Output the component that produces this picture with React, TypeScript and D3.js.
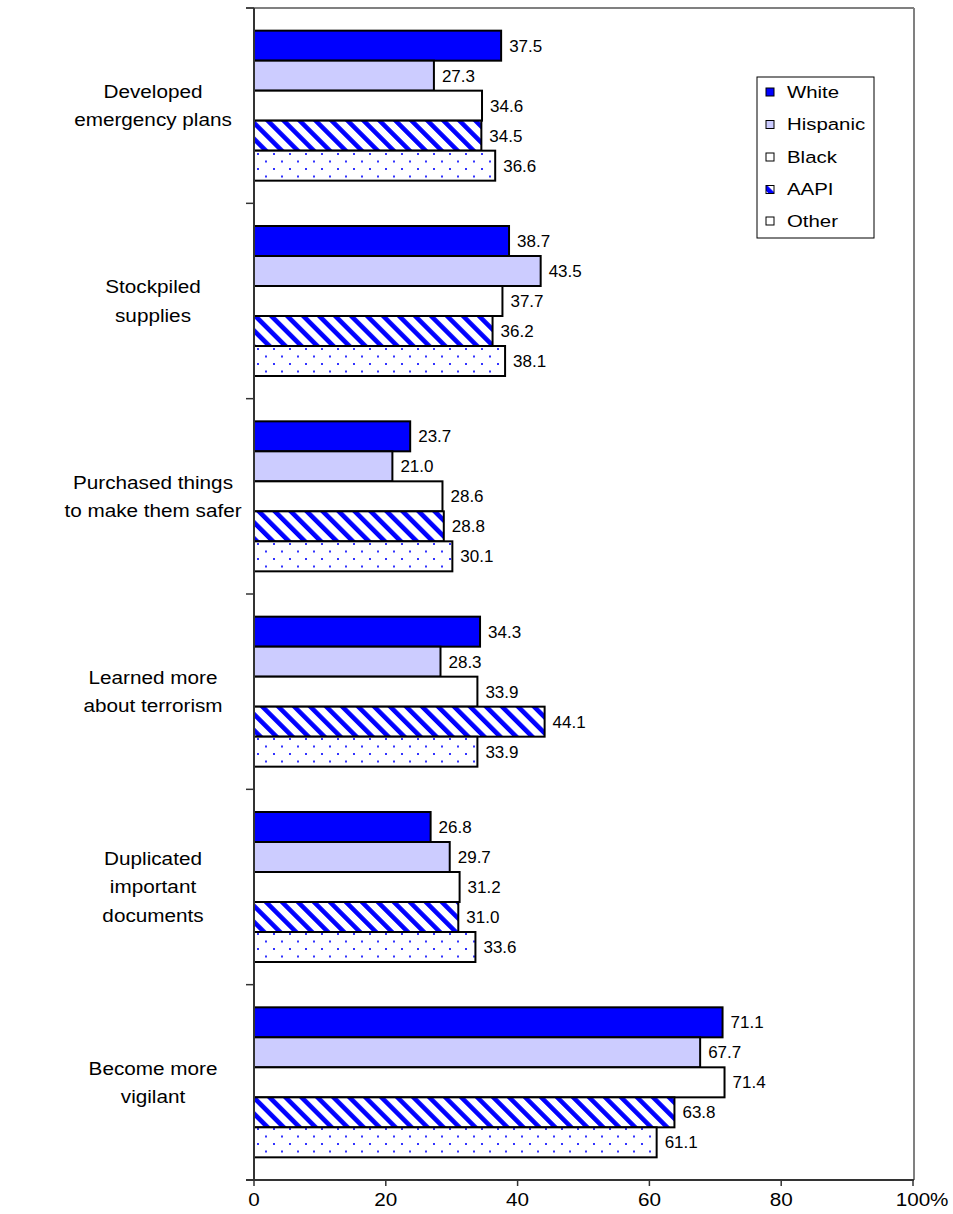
import React from "react";
import * as d3 from "d3";

const categories = [
  "Developed emergency plans",
  "Stockpiled supplies",
  "Purchased things to make them safer",
  "Learned more about terrorism",
  "Duplicated important documents",
  "Become more vigilant",
];
const categoryLines = [
  ["Developed", "emergency plans"],
  ["Stockpiled", "supplies"],
  ["Purchased things", "to make them safer"],
  ["Learned more", "about terrorism"],
  ["Duplicated", "important", "documents"],
  ["Become more", "vigilant"],
];
const seriesNames = ["White", "Hispanic", "Black", "AAPI", "Other"];
const white = [37.5, 38.7, 23.7, 34.3, 26.8, 71.1];
const hispanic = [27.3, 43.5, 21.0, 28.3, 29.7, 67.7];
const black = [34.6, 37.7, 28.6, 33.9, 31.2, 71.4];
const aapi = [34.5, 36.2, 28.8, 44.1, 31.0, 63.8];
const other = [36.6, 38.1, 30.1, 33.9, 33.6, 61.1];
const seriesValues = [white, hispanic, black, aapi, other];
const xTicks = [0, 20, 40, 60, 80, 100];

const fills = ["#0000ff", "#ccccff", "#ffffff", "url(#stripes)", "url(#dots)"];

export default function App() {
  const W = 953, H = 1214;
  const left = 254, right = 913, top = 8, bottom = 1180;
  const x = d3.scaleLinear().domain([0, 100]).range([left, right]);
  const y = d3.scaleBand<string>().domain(categories).range([top, bottom]).padding(0);
  const bw = y.bandwidth();
  const inner = d3
    .scaleBand<string>()
    .domain(seriesNames)
    .range([0, bw])
    .paddingInner(0)
    .paddingOuter((bw - 150) / 2 / 30);
  const font = "Arial, 'Liberation Sans', sans-serif";
  const boundaries = d3.range(categories.length + 1).map((i) => top + i * bw);

  const legendX = 757, legendY = 77;
  const legendRows = [92, 124.5, 157, 189.5, 221];
  const labelCx = 153;
  const sx = 1.12;

  return (
    <svg width={W} height={H} style={{ position: "absolute", left: 0, top: 0, display: "block" }} fontFamily={font}>
      <defs>
        <pattern id="stripes" patternUnits="userSpaceOnUse" width={11.3} height={11.3} patternTransform="rotate(-45)">
          <rect width={11.3} height={11.3} fill="#ffffff" />
          <rect x={0} y={0} width={4.6} height={11.3} fill="#0000ff" />
        </pattern>
        <pattern id="dots" patternUnits="userSpaceOnUse" width={16} height={15} x={left} y={0}>
          <rect width={16} height={15} fill="#ffffff" />
          <rect x={3} y={3} width={2} height={2} fill="#3333ff" />
          <rect x={11} y={10.5} width={2} height={2} fill="#3333ff" />
        </pattern>
      </defs>
      <rect width={W} height={H} fill="#ffffff" />
      {/* plot border */}
      <line x1={left - 8} x2={right + 1} y1={top} y2={top} stroke="#808080" strokeWidth={2} />
      <line x1={right + 1} x2={right + 1} y1={top} y2={bottom} stroke="#808080" strokeWidth={2} />

      {/* bars */}
      {categories.map((c, ci) => (
        <g key={c}>
          {seriesNames.map((s, si) => {
            const v = seriesValues[si][ci];
            const by = (y(c) as number) + (inner(s) as number);
            return (
              <g key={s}>
                <rect
                  x={x(0)}
                  y={by}
                  width={x(v) - x(0)}
                  height={inner.bandwidth()}
                  fill={fills[si]}
                  stroke="#000"
                  strokeWidth={2}
                />
                <text x={x(v) + 8} y={by + inner.bandwidth() / 2} dy="0.35em" fontSize={17} fill="#000">
                  {v.toFixed(1)}
                </text>
              </g>
            );
          })}
          {categoryLines[ci].map((ln, li) => {
            const n = categoryLines[ci].length;
            const cy = (y(c) as number) + bw / 2 + (li - (n - 1) / 2) * 28.5;
            return (
              <text
                key={li}
                transform={`translate(${labelCx},${cy}) scale(${sx},1)`}
                dy="0.35em"
                textAnchor="middle"
                fontSize={18.5}
                fill="#000"
              >
                {ln}
              </text>
            );
          })}
        </g>
      ))}

      {/* left axis */}
      <line x1={left} x2={left} y1={top} y2={bottom} stroke="#333" strokeWidth={2} />
      {boundaries.map((b, i) => (
        <line key={i} x1={left - 8} x2={left} y1={b} y2={b} stroke="#333" strokeWidth={1.5} />
      ))}
      {/* bottom axis */}
      <line x1={left - 8} x2={right + 1} y1={bottom} y2={bottom} stroke="#333" strokeWidth={2} />
      {xTicks.map((t) => (
        <g key={t}>
          <line x1={x(t)} x2={x(t)} y1={bottom} y2={bottom + 6} stroke="#333" strokeWidth={1.5} />
          <text
            transform={`translate(${x(t)},${bottom + 26}) scale(1.15,1)`}
            textAnchor="middle"
            fontSize={18}
            fill="#000"
          >
            {String(t)}
          </text>
          {t === 100 && (
            <text
              transform={`translate(${x(t) + 17},${bottom + 26}) scale(1.15,1)`}
              fontSize={18}
              fill="#000"
            >
              %
            </text>
          )}
        </g>
      ))}

      {/* legend */}
      <rect x={legendX} y={legendY} width={117} height={161} fill="#ffffff" stroke="#000" strokeWidth={1} />
      {seriesNames.map((s, si) => (
        <g key={s}>
          <rect x={766} y={legendRows[si] - 4} width={8} height={8} fill={fills[si]} stroke="#000" strokeWidth={1} />
          <text
            transform={`translate(787,${legendRows[si]}) scale(1.2,1)`}
            dy="0.35em"
            fontSize={17}
            fill="#000"
          >
            {s}
          </text>
        </g>
      ))}
    </svg>
  );
}
